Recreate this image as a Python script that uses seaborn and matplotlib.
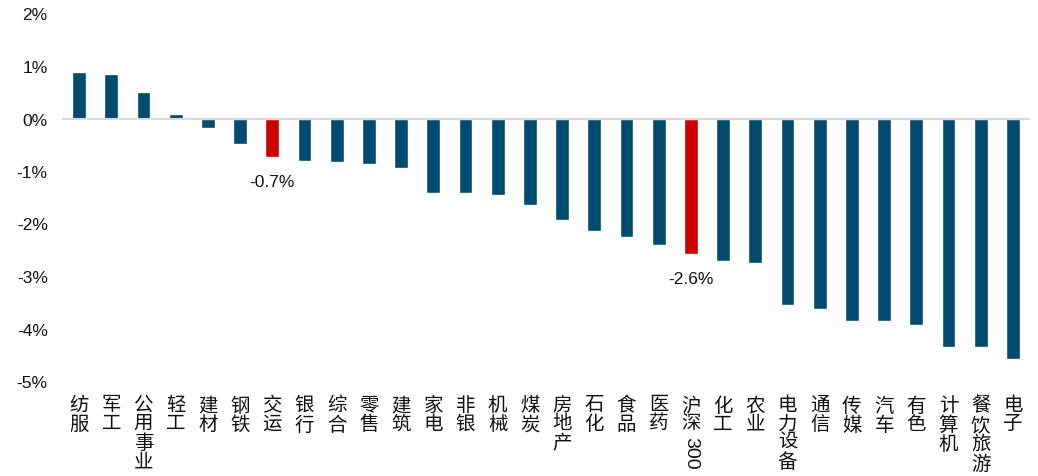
import numpy as np
import pandas as pd
import matplotlib
matplotlib.use('Agg')
import matplotlib.pyplot as plt
import matplotlib.ticker as mticker
import seaborn as sns

# 行业涨跌幅（%）
industries = ['纺服', '军工', '公用事业', '轻工', '建材', '钢铁', '交运', '银行', '综合', '零售',
              '建筑', '家电', '非银', '机械', '煤炭', '房地产', '石化', '食品', '医药', '沪深300',
              '化工', '农业', '电力设备', '通信', '传媒', '汽车', '有色', '计算机', '餐饮旅游', '电子']
returns = [0.88, 0.84, 0.50, 0.08, -0.18, -0.49, -0.74, -0.80, -0.83, -0.87,
           -0.95, -1.41, -1.41, -1.45, -1.64, -1.94, -2.14, -2.25, -2.40, -2.59,
           -2.71, -2.75, -3.55, -3.63, -3.86, -3.86, -3.93, -4.35, -4.35, -4.58]
highlight = ['交运', '沪深300']
y_ticks = [-5, -4, -3, -2, -1, 0, 1, 2]

blue = '#014a70'
red = '#cc0000'
grey = '#d9d9d9'

sns.set_style('white')
plt.rcParams['font.family'] = ['Liberation Sans', 'Noto Sans CJK SC', 'DejaVu Sans']
plt.rcParams['axes.unicode_minus'] = False

df = pd.DataFrame({'industry': industries, 'ret': returns})
colors = [red if c in highlight else blue for c in industries]

fig = plt.figure(figsize=(10.38, 4.77), dpi=100)
ax = fig.add_axes([63 / 1038, 1 - 382 / 477, 966 / 1038, (382 - 14.5) / 477])

sns.barplot(data=df, x='industry', y='ret', hue='industry', palette=colors,
            legend=False, width=0.43, saturation=1, ax=ax)

n = len(industries)
ax.set_xlim(-0.5, n - 0.5)
ax.set_ylim(-5, 2)
ax.set_yticks(y_ticks)
ax.yaxis.set_major_formatter(mticker.FuncFormatter(lambda v, p: '%d%%' % v))
ax.set_xlabel('')
ax.set_ylabel('')

for s in ['left', 'top', 'right']:
    ax.spines[s].set_visible(False)
ax.spines['bottom'].set_position(('data', 0))
ax.spines['bottom'].set_color(grey)
ax.spines['bottom'].set_linewidth(1.5)

# 竖排标签
labels = []
for name in industries:
    if name == '沪深300':
        labels.append('沪\n深')
    else:
        labels.append('\n'.join(name))
ax.set_xticks(range(n))
ax.set_xticklabels(labels, fontsize=14, color='#111111')
for lbl in ax.get_xticklabels():
    lbl.set_linespacing(1.1)
ax.set_xticks(np.arange(-0.5, n), minor=True)
ax.tick_params(axis='x', which='major', length=0, pad=200)
ax.tick_params(axis='x', which='minor', direction='in', length=4, width=1.5, color=grey)
ax.tick_params(axis='y', length=0, pad=11, labelsize=12.5, labelcolor='#111111')

idx = industries.index('沪深300')
ax.text(idx, -0.150, '300', transform=ax.get_xaxis_transform(), rotation=-90,
        ha='center', va='top', fontsize=14, color='#111111')

# 数据标签
for name in highlight:
    i = industries.index(name)
    v = returns[i]
    ax.annotate('%.1f%%' % v, xy=(i, v), xytext=(0, -12), textcoords='offset points',
                ha='center', va='top', fontsize=12.5, color='#111111')

fig.savefig('out.png', dpi=100)
